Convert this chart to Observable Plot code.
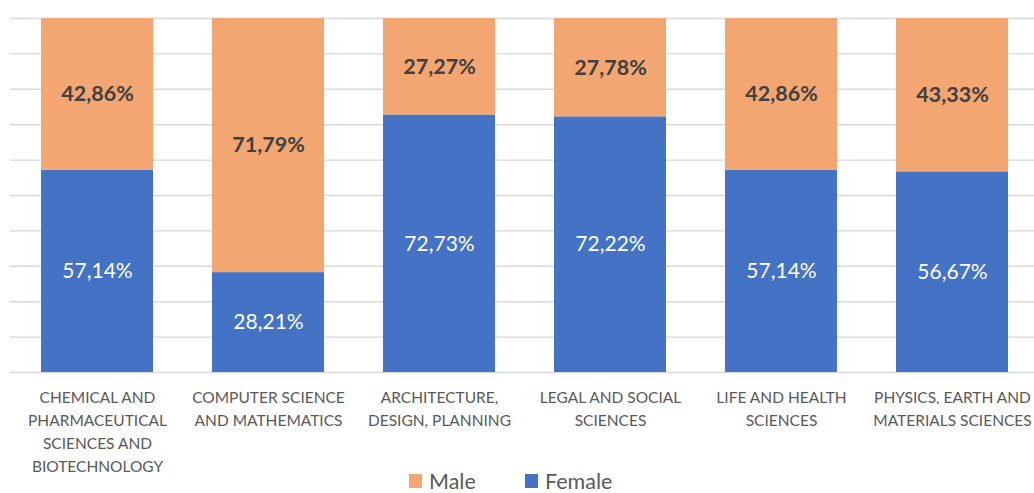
<!DOCTYPE html>
<html>
<head>
<meta charset="utf-8">
<script src="https://cdn.jsdelivr.net/npm/d3@7"></script>
<script src="https://cdn.jsdelivr.net/npm/@observablehq/plot@0.6"></script>
<style>
  html, body { margin: 0; padding: 0; background: #fff; }
  body { position: relative; width: 1034px; height: 493px; overflow: hidden; font-family: Lato, "Noto Sans", sans-serif; }
  #chart svg { display: block; }
  #legend { position: absolute; left: 0; top: 470px; width: 1034px; height: 22px; }
  .item { position: absolute; top: 0; display: flex; align-items: center; height: 22px; font-size: 21.5px; line-height: 22px; color: #595959; }
  .sw { width: 13px; height: 14px; margin-right: 7px; }
</style>
</head>
<body>
<div id="chart"></div>
<div id="legend"></div>
<script>
const categories = [
  "CHEMICAL AND PHARMACEUTICAL SCIENCES AND BIOTECHNOLOGY",
  "COMPUTER SCIENCE AND MATHEMATICS",
  "ARCHITECTURE, DESIGN, PLANNING",
  "LEGAL AND SOCIAL SCIENCES",
  "LIFE AND HEALTH SCIENCES",
  "PHYSICS, EARTH AND MATERIALS SCIENCES"
];
const tickLabels = [
  "CHEMICAL AND\nPHARMACEUTICAL\nSCIENCES AND\nBIOTECHNOLOGY",
  "COMPUTER SCIENCE\nAND MATHEMATICS",
  "ARCHITECTURE,\nDESIGN, PLANNING",
  "LEGAL AND SOCIAL\nSCIENCES",
  "LIFE AND HEALTH\nSCIENCES",
  "PHYSICS, EARTH AND\nMATERIALS SCIENCES"
];
const female = [57.14, 28.21, 72.73, 72.22, 57.14, 56.67];
const male = [42.86, 71.79, 27.27, 27.78, 42.86, 43.33];
const series = ["Male", "Female"];
const colors = {Male: "#F4A672", Female: "#4472C4"};

const rows = [];
categories.forEach((c, i) => rows.push({cat: c, sex: "Female", value: female[i]}));
categories.forEach((c, i) => rows.push({cat: c, sex: "Male", value: male[i]}));

const fmt = v => v.toFixed(2).replace(".", ",") + "%";
const labelOf = new Map(categories.map((c, i) => [c, tickLabels[i]]));

const chart = Plot.plot({
  width: 1034,
  height: 480,
  marginLeft: 10,
  marginRight: 0,
  marginTop: 18,
  marginBottom: 108,
  style: {fontFamily: "Lato, 'Noto Sans', sans-serif", background: "transparent"},
  x: {domain: categories, range: [10.3, 1038.7], paddingInner: 0.347, paddingOuter: 0.1735, label: null},
  y: {domain: [0, 100], label: null},
  marks: [
    Plot.gridY(d3.range(0, 101, 10), {stroke: "#d9d9d9", strokeOpacity: 1, strokeWidth: 1.4}),
    Plot.barY(rows, Plot.stackY({x: "cat", y: "value", fill: d => colors[d.sex]})),
    Plot.text(rows, Plot.stackY({x: "cat", y: "value", text: d => d.sex === "Female" ? fmt(d.value) : null, fill: "white", fontSize: 21})),
    Plot.text(rows, Plot.stackY({x: "cat", y: "value", text: d => d.sex === "Male" ? fmt(d.value) : null, fill: "#404040", fontSize: 21.5, fontWeight: "bold"})),
    Plot.axisX({tickSize: 0, tickPadding: 14, fontSize: 15.5, fill: "#595959", lineHeight: 1.48, tickFormat: d => labelOf.get(d), label: null}),
    Plot.axisY({ticks: [], label: null, tickSize: 0})
  ]
});
document.getElementById("chart").appendChild(chart);

const legend = document.getElementById("legend");
const positions = {Male: 409, Female: 525};
series.forEach(s => {
  const item = document.createElement("div");
  item.className = "item";
  item.style.left = positions[s] + "px";
  const sw = document.createElement("span");
  sw.className = "sw";
  sw.style.background = colors[s];
  const t = document.createElement("span");
  t.textContent = s;
  item.appendChild(sw);
  item.appendChild(t);
  legend.appendChild(item);
});
</script>
</body>
</html>
